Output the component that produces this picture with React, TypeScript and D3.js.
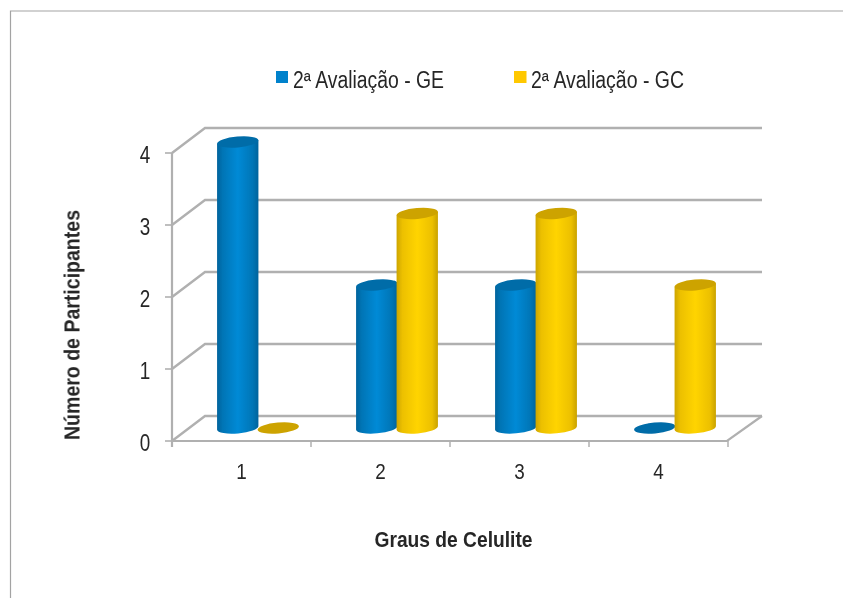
import { scaleBand, scaleLinear, path as d3_path } from "d3";

const categories = ["1", "2", "3", "4"];
const seriesNames = ["2ª Avaliação - GE", "2ª Avaliação - GC"];
const valuesGE = [4, 2, 2, 0];
const valuesGC = [0, 3, 3, 2];
const yTicks = [0, 1, 2, 3, 4];

const width = 843;
const height = 598;
const depthX = 33;
const depthY = -25;
const gridColor = "#b0b0b0";
const textColor = "#262626";
const fontFamily = "'Liberation Sans', Arial, sans-serif";

const x = scaleBand<string>().domain(categories).range([172, 728]);
const y = scaleLinear().domain([0, 4]).range([441, 153]);
// bars stand in the middle of the floor so they have their own baseline
const yBar = scaleLinear().domain([0, 4]).range([428, 142]);

const barW = 41.5;
const rx = barW / 2;
const ry = 5.4;
const tilt = -5;
const tiltDx = rx * Math.cos((tilt * Math.PI) / 180);
const tiltDy = rx * Math.sin((tilt * Math.PI) / 180);

function bodyPath(cx: number, top: number, base: number) {
  const p = d3_path();
  p.moveTo(cx - tiltDx, top - tiltDy);
  p.lineTo(cx + tiltDx, top + tiltDy);
  p.lineTo(cx + tiltDx, base + tiltDy);
  return `${p.toString()} A ${rx} ${ry} ${tilt} 0 1 ${cx - tiltDx} ${base - tiltDy} Z`;
}

function Cylinder({ cx, value, kind }: { cx: number; value: number; kind: "blue" | "gold" }) {
  const top = yBar(value);
  const base = yBar(0);
  const topColor = kind === "blue" ? "#006ca8" : "#cda300";
  return (
    <g>
      {value > 0 && <path d={bodyPath(cx, top, base)} fill={`url(#grad-${kind})`} />}
      <ellipse cx={cx} cy={top} rx={rx} ry={ry} transform={`rotate(${tilt} ${cx} ${top})`} fill={topColor} />
    </g>
  );
}

export default function App() {
  const groupCenter = (c: string) => (x(c) ?? 0) + x.bandwidth() / 2 + depthX / 2;
  const tickXs = [...categories.map((c) => x(c) ?? 0), 172 + x.bandwidth() * categories.length];

  return (
    <svg
      width={width}
      height={height}
      viewBox={`0 0 ${width} ${height}`}
      style={{ position: "absolute", left: 0, top: 0, display: "block", background: "#fff" }}
      fontFamily={fontFamily}
    >
      <defs>
        <linearGradient id="grad-blue" x1="0" x2="1" y1="0" y2="0">
          <stop offset="0" stopColor="#00639c" />
          <stop offset="0.14" stopColor="#0075b6" />
          <stop offset="0.5" stopColor="#008ad6" />
          <stop offset="0.86" stopColor="#0075b6" />
          <stop offset="1" stopColor="#00639c" />
        </linearGradient>
        <linearGradient id="grad-gold" x1="0" x2="1" y1="0" y2="0">
          <stop offset="0" stopColor="#cda500" />
          <stop offset="0.14" stopColor="#ecc000" />
          <stop offset="0.5" stopColor="#ffd400" />
          <stop offset="0.86" stopColor="#ecc000" />
          <stop offset="1" stopColor="#c9a200" />
        </linearGradient>
        <filter id="soft" x="-5%" y="-5%" width="110%" height="110%">
          <feGaussianBlur stdDeviation="0.55" />
        </filter>
      </defs>

      {/* image border */}
      <path d={`M10.5 ${height} V11 H${width}`} fill="none" stroke="#a3a3a3" strokeWidth={1.2} />

      <g filter="url(#soft)">
        {/* walls and floor */}
        {yTicks.map((t) => (
          <g key={t} stroke={gridColor} strokeWidth={2.4} fill="none">
            <line x1={165} x2={172} y1={y(t)} y2={y(t)} strokeWidth={1.6} />
            <path d={`M172 ${y(t)} L${172 + depthX} ${y(t) + depthY} H762`} />
          </g>
        ))}
        <line x1={172} x2={172} y1={y(4)} y2={447} stroke={gridColor} strokeWidth={2.2} />
        <path d={`M172 ${y(0)} H727 L762 ${y(0) + depthY}`} fill="none" stroke={gridColor} strokeWidth={2.2} />
        {tickXs.map((tx) => (
          <line key={tx} x1={tx} x2={tx} y1={441} y2={447} stroke={gridColor} strokeWidth={1.5} />
        ))}

        {/* bars */}
        {categories.map((c, i) => (
          <Cylinder key={c} cx={groupCenter(c) - barW / 2 + 0.5} value={valuesGE[i]} kind="blue" />
        ))}
        {categories.map((c, i) => (
          <Cylinder key={c} cx={groupCenter(c) + barW / 2 - 0.5} value={valuesGC[i]} kind="gold" />
        ))}

        {/* legend */}
        <rect x={276} y={71} width={12} height={12} fill="#0082cc" />
        <rect x={514} y={71} width={12.5} height={12} fill="#ffc800" />
        <text x={293} y={88} fontSize={23} textLength={151} lengthAdjust="spacingAndGlyphs" fill={textColor}>
          {seriesNames[0]}
        </text>
        <text x={531} y={88} fontSize={23} textLength={153} lengthAdjust="spacingAndGlyphs" fill={textColor}>
          {seriesNames[1]}
        </text>

        {/* tick labels */}
        {yTicks.map((t) => (
          <text key={t} x={145} y={y(t) + 9.5} fontSize={23} textAnchor="middle" fill={textColor} textLength={10.5} lengthAdjust="spacingAndGlyphs">
            {t}
          </text>
        ))}
        {categories.map((c) => (
          <text key={c} x={(x(c) ?? 0) + x.bandwidth() / 2} y={479} fontSize={22} textAnchor="middle" fill={textColor} textLength={10.5} lengthAdjust="spacingAndGlyphs">
            {c}
          </text>
        ))}

        {/* axis titles */}
        <text x={374.5} y={547} fontSize={22} fontWeight="bold" textLength={158} lengthAdjust="spacingAndGlyphs" fill={textColor}>
          Graus de Celulite
        </text>
        <text
          transform="translate(79.5,440) rotate(-90)"
          fontSize={22}
          fontWeight="bold"
          textLength={230}
          lengthAdjust="spacingAndGlyphs"
          fill={textColor}
        >
          Número de Participantes
        </text>
      </g>
    </svg>
  );
}
